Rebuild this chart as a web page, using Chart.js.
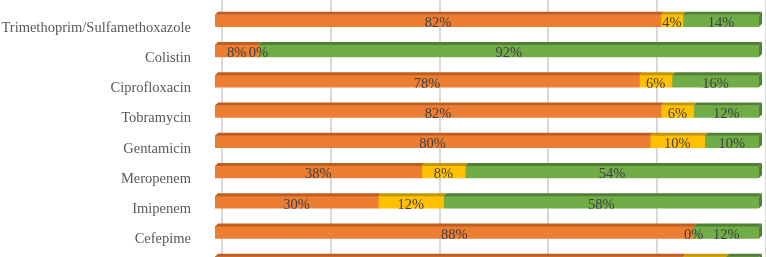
<!DOCTYPE html>
<html>
<head>
<meta charset="utf-8">
<script src="https://cdn.jsdelivr.net/npm/chart.js@4/dist/chart.umd.min.js"></script>
<style>
    body { margin: 0; background: #ffffff; }
    #wrap { width: 766px; height: 257px; overflow: hidden; }
</style>
</head>
<body>
<div id="wrap">
    <canvas id="barchart" width="766" height="285"></canvas>
</div>
<script>
// category names (last row is cut off at the bottom of the picture)
const drugs = ['Trimethoprim/Sulfamethoxazole', 'Colistin', 'Ciprofloxacin', 'Tobramycin',
    'Gentamicin', 'Meropenem', 'Imipenem', 'Cefepime', ''];

const resistant = [82, 8, 78, 82, 80, 38, 30, 88, 86];
const intermediate = [4, 0, 6, 6, 10, 8, 12, 0, 8];
const susceptible = [14, 92, 16, 12, 10, 54, 58, 12, 6];

const gridTicks = [0, 20, 40, 60, 80, 100];

const fontFam = '"Liberation Serif", "Times New Roman", serif';

// darker shade for the 3d top / side of each series
const topColors = ['#C05E1F', '#C49600', '#527F33'];
const depth = 3;

const bar3d = {
    id: 'bar3d',
    beforeDatasetsDraw(chart) {
        // grid lines sit on the back wall, so shifted right a bit
        const ctx = chart.ctx;
        const xs = chart.scales.x;
        ctx.save();
        ctx.strokeStyle = '#D9D9D9';
        ctx.lineWidth = 2;
        gridTicks.forEach(function (v) {
            var px = Math.round(xs.getPixelForValue(v)) + 7;
            ctx.beginPath();
            ctx.moveTo(px, 0);
            ctx.lineTo(px, chart.chartArea.bottom);
            ctx.stroke();
        });
        ctx.restore();
    },
    afterDatasetsDraw(chart) {
        const ctx = chart.ctx;
        ctx.save();
        chart.data.datasets.forEach(function (ds, di) {
            const meta = chart.getDatasetMeta(di);
            meta.data.forEach(function (el, i) {
                if (ds.data[i] == 0) {
                    return;
                }
                var top = el.y - el.height / 2;
                var bot = el.y + el.height / 2;
                ctx.fillStyle = topColors[di];
                ctx.beginPath();
                ctx.moveTo(el.base, top);
                ctx.lineTo(el.x, top);
                ctx.lineTo(el.x + depth, top - depth);
                ctx.lineTo(el.base + depth, top - depth);
                ctx.closePath();
                ctx.fill();
                // right side only on the segment that reaches 100%
                if (Math.abs(el.x - chart.scales.x.getPixelForValue(100)) < 1) {
                    ctx.beginPath();
                    ctx.moveTo(el.x, top);
                    ctx.lineTo(el.x + depth, top - depth);
                    ctx.lineTo(el.x + depth, bot - depth);
                    ctx.lineTo(el.x, bot);
                    ctx.closePath();
                    ctx.fill();
                }
            });
        });
        ctx.restore();
    },
    afterDraw(chart) {
        // value labels in the middle of each segment
        const ctx = chart.ctx;
        ctx.save();
        ctx.font = '14.5px ' + fontFam;
        ctx.fillStyle = '#404040';
        ctx.textAlign = 'center';
        ctx.textBaseline = 'middle';
        chart.data.datasets.forEach(function (ds, di) {
            const meta = chart.getDatasetMeta(di);
            meta.data.forEach(function (el, i) {
                var cx = (el.base + el.x) / 2;
                ctx.fillText(ds.data[i] + '%', cx, el.y + 2.5);
            });
        });
        ctx.restore();
    }
};

const ctx = document.getElementById('barchart');

new Chart(ctx, {
    type: 'bar',
    data: {
        labels: drugs,
        datasets: [
            { label: 'Resistant', data: resistant, backgroundColor: '#ED7D31' },
            { label: 'Intermediate', data: intermediate, backgroundColor: '#FFC000' },
            { label: 'Susceptible', data: susceptible, backgroundColor: '#70AD47' }
        ]
    },
    plugins: [bar3d],
    options: {
        indexAxis: 'y',
        responsive: false,
        animation: false,
        maintainAspectRatio: false,
        barThickness: 12,
        borderWidth: 0,
        layout: {
            padding: { top: 5.6, bottom: 7.2, right: 7, left: 0 }
        },
        scales: {
            x: {
                stacked: true,
                min: 0,
                max: 100,
                display: false
            },
            y: {
                stacked: true,
                afterFit: function (scale) {
                    scale.width = 215;
                    // the tick padding would otherwise push the plot down
                    scale.paddingTop = 0;
                    scale.paddingBottom = 0;
                },
                border: { display: false },
                grid: { display: false },
                ticks: {
                    padding: 16,
                    labelOffset: 7,
                    color: '#595959',
                    font: { family: fontFam, size: 14.5 }
                }
            }
        },
        plugins: {
            legend: { display: false },
            tooltip: { enabled: false }
        }
    }
});
</script>
</body>
</html>
